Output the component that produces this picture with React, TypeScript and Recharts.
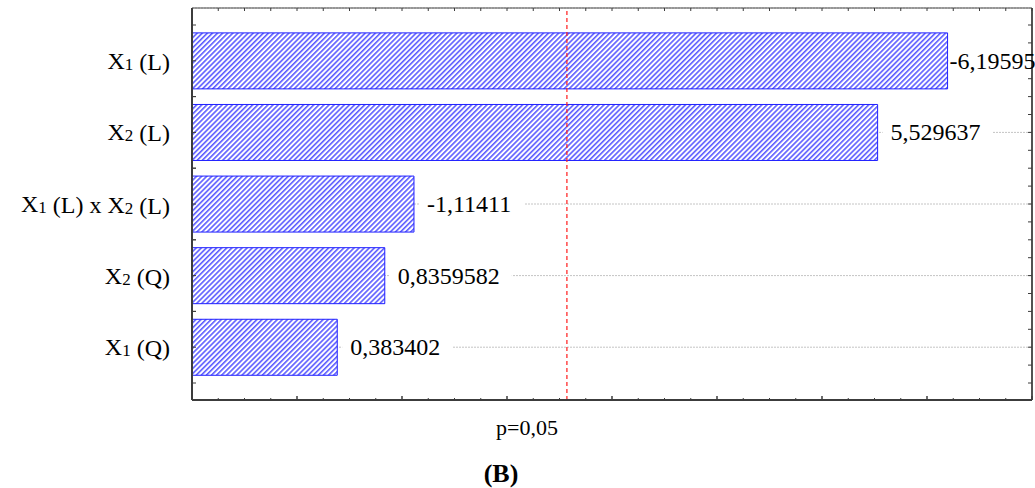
import * as React from 'react'
import { BarChart, Bar, XAxis, YAxis, CartesianGrid, ReferenceLine, LabelList } from 'recharts'

// standardized effects (Pareto chart), signed as printed
const factors = ['X1 (L)', 'X2 (L)', 'X1 (L) x X2 (L)', 'X2 (Q)', 'X1 (Q)']
const effects = [-6.19595, 5.529637, -1.11411, 0.8359582, 0.383402]
const pLabel = 'p=0,05'
const pCritical = 2.570582
const caption = '(B)'

const xDomain: [number, number] = [-1, 7]
const xTicks: number[] = []
for (let v = xDomain[0]; v <= xDomain[1] + 1e-9; v += 0.25) xTicks.push(+v.toFixed(2))

const W = 1035
const H = 488
const MARGIN = { top: 8, right: 0, left: 0, bottom: 0 }
const PLOT_TOP = MARGIN.top
const PLOT_RIGHT = 1032
const FONT = '"Liberation Serif", "Times New Roman", serif'
const AXIS_DARK = '#3c3c3c'
const CAT_PAD = { top: 17, bottom: 17 }

const data = factors.map((f, i) => ({ factor: f, size: Math.abs(effects[i]) }))

const fmt = (v: number) => String(v).replace('.', ',')

function textWidth(s: string, size: number) {
  let w = 0
  for (const ch of s) {
    if (ch === ',' || ch === '.') w += 0.25
    else if (ch === '-') w += 0.333
    else w += 0.5
  }
  return w * size
}

// "X1 (L)" -> X with small 1
function FactorText({ label, x, y }: { label: string; x: number; y: number }) {
  const parts = label.split(/(X\d)/).filter((p) => p !== '')
  return (
    <text x={x} y={y} textAnchor="end" fontSize={24} fontFamily={FONT} fill="#000">
      {parts.map((p, i) =>
        /^X\d$/.test(p) ? (
          <React.Fragment key={i}>
            <tspan>X</tspan>
            <tspan fontSize={17} dy={1}>{p[1]}</tspan>
            <tspan dy={-1}>{''}</tspan>
          </React.Fragment>
        ) : (
          <tspan key={i}>{p}</tspan>
        )
      )}
    </text>
  )
}

function halfBand(payload: any) {
  return payload && payload.offset > 5 ? payload.offset : 35.8
}

function LeftTick(props: any) {
  const { x, y, payload } = props
  const half = halfBand(payload)
  return (
    <g>
      {[-half, 0, half].map((d, i) => (
        <line key={i} x1={x} x2={x + 4} y1={y + d} y2={y + d} stroke={AXIS_DARK} strokeWidth={1} />
      ))}
      <FactorText label={payload.value} x={x - 22} y={y + 8} />
    </g>
  )
}

function RightTick(props: any) {
  const { x, y, payload, index } = props
  const q = halfBand(payload) / 2
  const ks = index === factors.length - 1 ? [-2, -1, 0, 1, 2] : [-2, -1, 0, 1]
  return (
    <g>
      {ks.map((k) => (
        <line key={k} x1={x} x2={x - 4} y1={y + k * q} y2={y + k * q} stroke={AXIS_DARK} strokeWidth={1} />
      ))}
    </g>
  )
}

// bottom ticks point up; the same positions are marked on the top edge
function BottomTick(props: any) {
  const { x, y, payload } = props
  const major = Number.isInteger(payload.value)
  return (
    <g>
      <line x1={x} x2={x} y1={y} y2={y - (major ? 4 : 2)} stroke={AXIS_DARK} strokeWidth={major ? 1.5 : 1} />
      <line x1={x} x2={x} y1={PLOT_TOP} y2={PLOT_TOP + 3} stroke={AXIS_DARK} strokeWidth={1} />
    </g>
  )
}

function ValueLabel(props: any) {
  const { x = 0, y = 0, width = 0, height = 0, index = 0 } = props
  const text = fmt(effects[index])
  const size = 24
  const w = textWidth(text, size)
  const end = x + width
  let start = end + 13
  if (start + w > PLOT_RIGHT) start = end + 2
  const cy = y + height / 2
  const rx0 = Math.max(start - 8, end + 1)
  const rx1 = Math.min(start + w + 12, PLOT_RIGHT - 1)
  return (
    <g>
      <rect x={rx0} y={cy - 12} width={rx1 - rx0} height={24} fill="#fff" />
      <text x={start} y={cy + 8} fontSize={size} fontFamily={FONT} fill="#000">{text}</text>
    </g>
  )
}

function PLineLabel(props: any) {
  const vb = props.viewBox || {}
  return (
    <text x={vb.x - 9} y={vb.y + vb.height + 35} textAnchor="end" fontSize={22} fontFamily={FONT} fill="#000">
      {pLabel}
    </text>
  )
}

function CaptionLabel(props: any) {
  const vb = props.viewBox || {}
  return (
    <text x={vb.x + 309} y={vb.y + 82} textAnchor="middle" fontSize={26} fontWeight={700} fontFamily={FONT} fill="#000">
      {caption}
    </text>
  )
}

// plot frame: lines on the four edges of the plot area
const frameX = ({ offset }: any) => [offset.left, offset.left + offset.width]
const frameY = ({ offset }: any) => [offset.top, offset.top + offset.height]

export default function App() {
  return (
    <div style={{ position: 'absolute', left: 0, top: 0, width: W, height: H, background: '#fff' }}>
      <BarChart width={W} height={H} data={data} layout="vertical" margin={MARGIN} barCategoryGap="11%">
        <defs>
          <pattern id="hatch" width="3.6" height="3.6" patternUnits="userSpaceOnUse" patternTransform="rotate(45)">
            <rect width="3.6" height="3.6" fill="#ffffff" />
            <line x1="0.8" y1="0" x2="0.8" y2="3.6" stroke="#5c5cff" strokeWidth="1.6" />
          </pattern>
        </defs>
        <CartesianGrid vertical={false} stroke="#c4c4c4" strokeDasharray="2 1" />
        <CartesianGrid
          verticalCoordinatesGenerator={frameX}
          horizontalCoordinatesGenerator={frameY}
          stroke="#4a4a4a"
          strokeWidth={1.2}
        />
        <XAxis
          type="number"
          domain={xDomain}
          ticks={xTicks}
          interval={0}
          allowDataOverflow
          height={88}
          tickSize={0}
          tickMargin={0}
          tickLine={false}
          tick={<BottomTick />}
          axisLine={{ stroke: AXIS_DARK, strokeWidth: 2 }}
          label={<CaptionLabel />}
        />
        <YAxis
          type="category"
          dataKey="factor"
          width={192}
          interval={0}
          padding={CAT_PAD}
          tickSize={0}
          tickMargin={0}
          tickLine={false}
          tick={<LeftTick />}
          axisLine={{ stroke: AXIS_DARK, strokeWidth: 2 }}
        />
        <YAxis
          yAxisId="right"
          orientation="right"
          type="category"
          dataKey="factor"
          width={W - PLOT_RIGHT}
          interval={0}
          padding={CAT_PAD}
          tickSize={0}
          tickMargin={0}
          tickLine={false}
          tick={<RightTick />}
          axisLine={{ stroke: AXIS_DARK, strokeWidth: 1.5 }}
        />
        <Bar
          dataKey={(d: any) => [xDomain[0], d.size]}
          fill="url(#hatch)"
          stroke="#1f1fff"
          strokeWidth={1}
          isAnimationActive={false}
        >
          <LabelList content={<ValueLabel />} />
        </Bar>
        <ReferenceLine x={pCritical} stroke="#ff1a1a" strokeWidth={1.2} strokeDasharray="4 3" label={<PLineLabel />} />
      </BarChart>
    </div>
  )
}
